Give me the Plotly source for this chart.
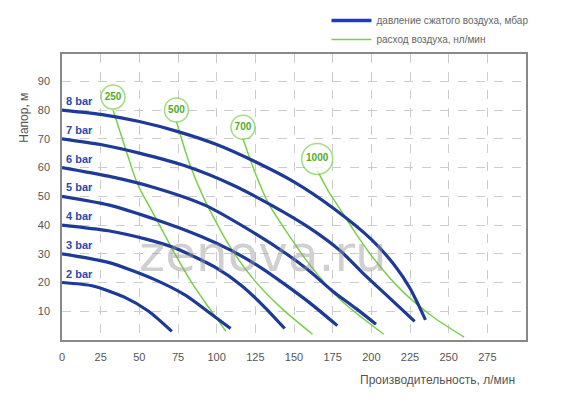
import plotly.graph_objects as go

# pressure curves (bar -> flow, head)
bar_labels = ["8 bar", "7 bar", "6 bar", "5 bar", "4 bar", "3 bar", "2 bar"]
bar_x = [
    [0, 25, 50, 75, 100, 125, 150, 175, 200, 215, 225, 235],
    [0, 25, 50, 80, 110, 135, 160, 180, 195, 210, 228],
    [0, 30, 60, 92, 125, 145, 160, 175, 190, 203],
    [0, 30, 60, 90, 110, 129, 145, 160, 178],
    [0, 30, 55, 73, 100, 116, 130, 144],
    [0, 30, 60, 80, 94, 109],
    [0, 20, 40, 56, 71],
]
bar_y = [
    [80, 78.5, 76, 72.5, 68, 62, 55, 46, 35, 26, 18, 7],
    [70, 68, 65, 60.5, 54, 47, 39, 31, 23, 15.5, 6.5],
    [60, 57, 53, 47, 37, 30, 24, 17, 11, 5.5],
    [50, 47, 42, 36, 31, 25, 19, 13, 5],
    [40, 38, 35, 32, 25, 19, 12, 4],
    [30, 27, 21, 15.5, 10, 4],
    [20, 18.8, 15, 10, 3],
]

# air consumption curves (nl/min)
air_labels = ["250", "500", "700", "1000"]
air_x = [
    [33, 42, 49, 58, 73, 85, 94, 106],
    [74, 82, 92, 108, 124, 142, 162],
    [117, 125, 133, 146, 159, 180, 208],
    [165, 172, 178, 190, 202, 220, 240, 260],
]
air_y = [
    [80, 65, 54, 45, 30, 19, 12, 3],
    [76, 62, 49, 33, 21, 11, 2],
    [70, 58, 48, 37, 27, 14, 2],
    [59, 52, 47, 37, 28, 17, 8, 1],
]
bubble_x = [33, 74, 117, 165]
bubble_y = [84.5, 80, 74, 63]

x_ticks = [0, 25, 50, 75, 100, 125, 150, 175, 200, 225, 250, 275]
y_ticks = [10, 20, 30, 40, 50, 60, 70, 80, 90]

BLUE = "#1c3a96"
GREEN = "#7ccf4c"

fig = go.Figure()

for i, lab in enumerate(air_labels):
    fig.add_trace(go.Scatter(x=air_x[i], y=air_y[i], mode="lines",
                             line=dict(color=GREEN, width=1.5, shape="spline", smoothing=0.7),
                             showlegend=False))

for i, lab in enumerate(bar_labels):
    fig.add_trace(go.Scatter(x=bar_x[i], y=bar_y[i], mode="lines",
                             line=dict(color=BLUE, width=3.2, shape="spline", smoothing=0.7),
                             showlegend=False))
    fig.add_annotation(x=1, y=bar_y[i][0], text="<b>" + lab + "</b>", showarrow=False, xanchor="left",
                       yanchor="bottom", yshift=1, font=dict(color="#2a4aa8", size=11, family="Liberation Sans"))

fig.add_trace(go.Scatter(x=bubble_x, y=bubble_y, mode="markers+text", text=["<b>" + t + "</b>" for t in air_labels],
                         textposition="middle center",
                         textfont=dict(color="#4fae2a", size=10, family="Liberation Sans"),
                         marker=dict(size=[24, 24, 24, 31], color="white", line=dict(color=GREEN, width=1.5)),
                         showlegend=False))

# legend entries
fig.add_trace(go.Scatter(x=[None], y=[None], mode="lines", line=dict(color="#1a3acb", width=3.5),
                         name="давление сжатого воздуха, мбар"))
fig.add_trace(go.Scatter(x=[None], y=[None], mode="lines", line=dict(color=GREEN, width=1.5),
                         name="расход воздуха, нл/мин"))

fig.add_annotation(x=130, y=30, text="zenova.ru", showarrow=False,
                   font=dict(size=50, color="rgba(150,150,150,0.45)", family="DejaVu Sans"))

fig.add_annotation(xref="paper", yref="paper", x=-0.1, y=0.87, text="Напор, м", textangle=-90,
                   showarrow=False, font=dict(size=12, color="#555"))
fig.add_annotation(xref="paper", yref="paper", x=0.81, y=-0.17, text="Производительность, л/мин",
                   showarrow=False, xanchor="center", font=dict(size=12, color="#555"))

fig.update_xaxes(range=[0, 300], tickvals=x_ticks, showgrid=True, gridcolor="#cccccc", griddash="dash",
                 showline=True, linecolor="#888", linewidth=1.5, mirror=True, zeroline=False,
                 ticks="", ticklabelstandoff=6, tickfont=dict(size=11, color="#555"))
fig.update_yaxes(range=[0, 99.5], tickvals=y_ticks, showgrid=True, gridcolor="#cccccc", griddash="dash",
                 showline=True, linecolor="#888", linewidth=1.5, mirror=True, zeroline=False,
                 ticks="", ticklabelstandoff=8, tickfont=dict(size=11, color="#555"))

fig.update_layout(
    width=569, height=402, plot_bgcolor="white", paper_bgcolor="white",
    margin=dict(l=54, r=51, t=46, b=70, autoexpand=False),
    font=dict(family="Liberation Sans", color="#555"),
    legend=dict(x=0.57, y=1.0, xanchor="left", yanchor="bottom", font=dict(size=10, color="#666"),
                bgcolor="rgba(0,0,0,0)", tracegroupgap=0, itemwidth=40),
)

fig.write_html("out.html")
